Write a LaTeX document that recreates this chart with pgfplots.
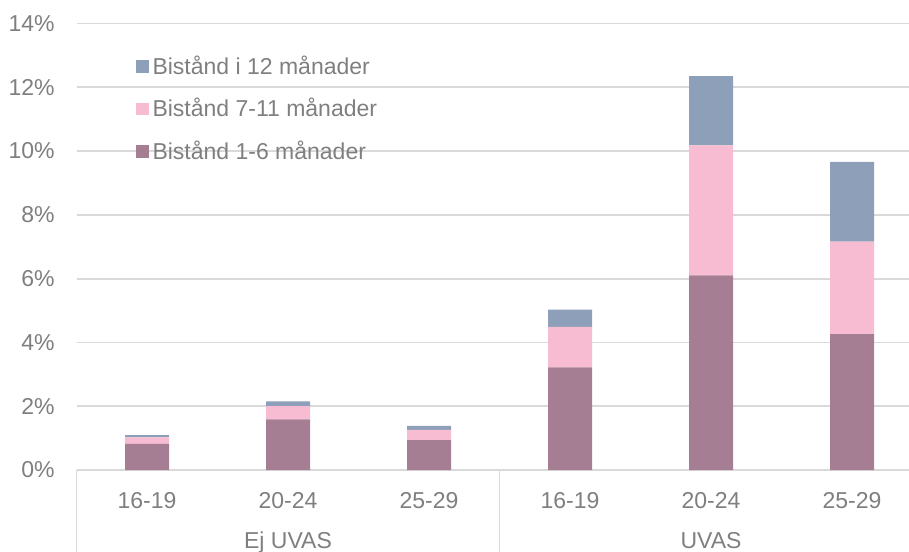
\documentclass[border=0pt]{standalone}
\usepackage{fontspec}
\setmainfont{Liberation Sans}
\usepackage{pgfplots}
\pgfplotsset{compat=1.18}
\definecolor{cdark}{HTML}{A67E94}
\definecolor{cpink}{HTML}{F7BCD1}
\definecolor{cblue}{HTML}{8E9FBA}
\definecolor{ctext}{HTML}{7F7F7F}
\definecolor{cgrid}{HTML}{D9D9D9}
\begin{document}
\begin{tikzpicture}
\clip (-38.25pt,-40.5pt) rectangle (416.25pt,235pt);
\begin{axis}[
  at={(0,0)}, anchor=south west, scale only axis,
  width=416.25pt, height=223.25pt,
  xmin=-0.5, xmax=5.404, ymin=0, ymax=14,
  ybar stacked, bar width=22pt,
  axis line style={draw=none},
  tick style={draw=none},
  ymajorgrids, grid style={cgrid, line width=0.9pt},
  ytick={0,2,...,14}, yticklabels={0\%,2\%,4\%,6\%,8\%,10\%,12\%,14\%},
  xtick={0,...,5}, xticklabels={16-19,20-24,25-29,16-19,20-24,25-29},
  ticklabel style={font=\fontsize{11.5}{13}\selectfont, text=ctext},
  yticklabel style={anchor=east, inner sep=0pt, xshift=-10.75pt},
  xticklabel style={anchor=base, inner sep=0pt, yshift=-19pt},
  clip=false,
  reverse legend,
  legend cell align=left,
  legend style={at={(rel axis cs:0.071,0.935)}, anchor=north west, draw=none, fill=none,
    font=\fontsize{11.5}{13}\selectfont, text=ctext, row sep=8pt, inner sep=0pt,
    nodes={inner sep=1.3pt}},
  legend image code/.code={\fill[#1] (0pt,-3.2pt) rectangle (6.35pt,3.2pt);},
]
\addplot[fill=cdark, draw=none] coordinates {(0,0.82) (1,1.59) (2,0.94) (3,3.22) (4,6.10) (5,4.26)};
\addplot[fill=cpink, draw=none] coordinates {(0,0.20) (1,0.41) (2,0.32) (3,1.27) (4,4.08) (5,2.90)};
\addplot[fill=cblue, draw=none] coordinates {(0,0.07) (1,0.15) (2,0.12) (3,0.54) (4,2.17) (5,2.50)};
\legend{\hspace{0.6pt}Bistånd 1-6 månader, \hspace{0.6pt}Bistånd 7-11 månader, \hspace{0.6pt}Bistånd i 12 månader}
\draw[cgrid, line width=0.9pt] (axis cs:-0.5,0) -- ([yshift=-45pt]axis cs:-0.5,0);
\draw[cgrid, line width=0.9pt] (axis cs:2.5,0) -- ([yshift=-45pt]axis cs:2.5,0);
\node[anchor=base, text=ctext, font=\fontsize{11.5}{13}\selectfont, inner sep=0pt, yshift=-39pt] at (axis cs:1,0) {Ej UVAS};
\node[anchor=base, text=ctext, font=\fontsize{11.5}{13}\selectfont, inner sep=0pt, yshift=-39pt] at (axis cs:4,0) {UVAS};
\end{axis}
\end{tikzpicture}
\end{document}
